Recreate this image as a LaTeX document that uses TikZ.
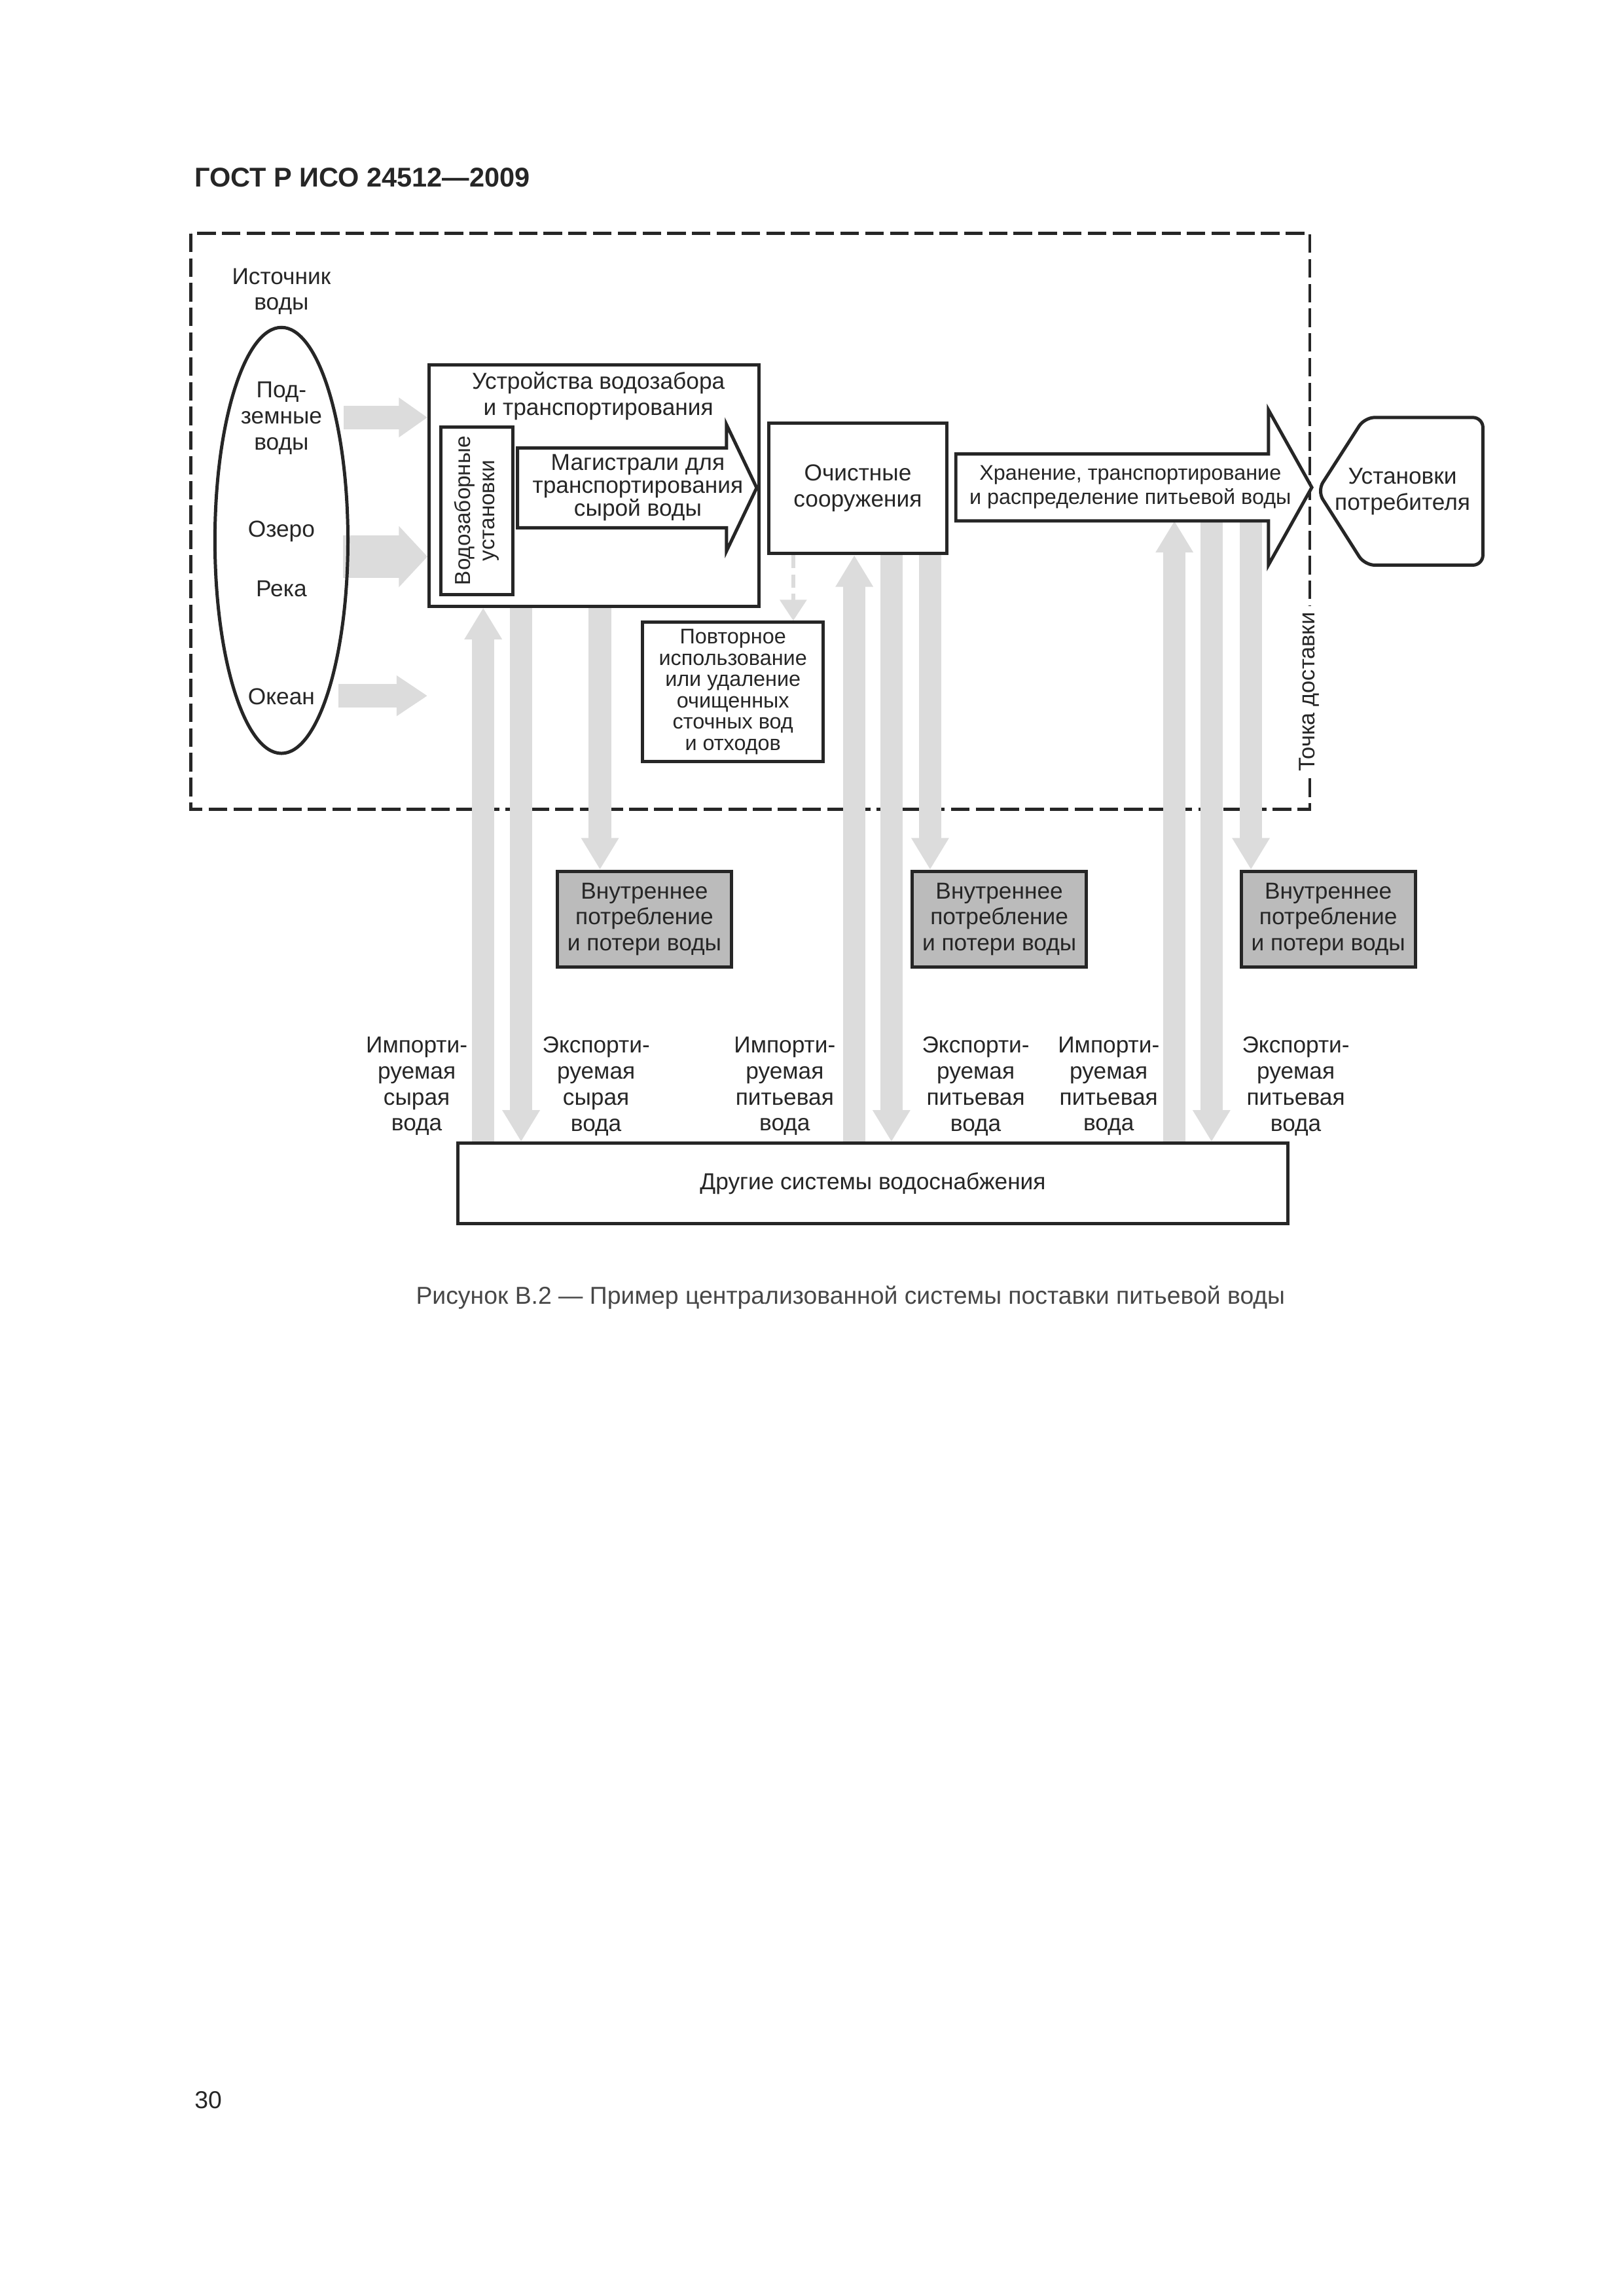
\documentclass[tikz,border=0pt]{standalone}
\usepackage{fontspec}
\setmainfont{Liberation Sans}
\usetikzlibrary{shapes.geometric,arrows.meta}
\pgfdeclarelayer{frame}
\pgfdeclarelayer{flow}
\pgfsetlayers{frame,flow,main}
\definecolor{ink}{HTML}{262626}
\definecolor{pipe}{HTML}{DCDCDC}
\definecolor{loss}{HTML}{BBBBBB}

\begin{document}
\begin{tikzpicture}[x=1mm, y=-1mm,
    every node/.style={text=ink, inner sep=0pt, align=center, font=\fontsize{8.5}{9.6}\selectfont},
    box/.style={draw=ink, line width=1.2pt, fill=white},
    losses/.style={box, fill=loss, minimum width=22.5mm, minimum height=12.4mm},
    outline/.style={draw=ink, line width=1.2pt, line join=miter, fill=white},
    pipeline/.style={draw=pipe, line width=2.9mm, -{Triangle[length=4.1mm, width=4.6mm]}}]
\useasboundingbox (0,0) rectangle (210,297);
\node[anchor=base west, font=\fontsize{10}{12}\selectfont\bfseries] (header) at (25.1,24.2) {ГОСТ Р ИСО 24512—2009};
% boundary of the supply system
\begin{pgfonlayer}{frame}
\draw [ink, line width=1.1pt, dash pattern=on 2.4mm off 0.8mm] (24.7,30.2) rectangle (169.4,104.7);
\end{pgfonlayer}
\node[rotate=90, fill=white, inner xsep=0.8mm, inner ysep=0.4mm, font=\fontsize{8.3}{9.6}\selectfont] (delivery) at (169.3,89.5) {Точка доставки};
% water source
\node (srclabel) at (36.4,37.7) {Источник\\воды};
\node[draw=ink, line width=1.2pt, ellipse, minimum width=17.2mm, minimum height=55.1mm] (source) at (36.4,69.9) {};
\node (ground) at (36.4,54.1) {Под-\\земные\\воды};
\node[anchor=base] (lake) at (36.4,69.5) {Озеро};
\node[anchor=base] (river) at (36.4,77.2) {Река};
\node[anchor=base] (ocean) at (36.4,91.1) {Океан};
\coordinate (feed1) at (44.45,54.0);
\coordinate (feed2) at (44.4,72.0);
\coordinate (feed3) at (43.8,90.0);
% intake and raw water mains
\node[box, minimum width=42.7mm, minimum height=31.2mm] (intake) at (76.85,62.8) {};
\node (intakelabel) at (77.4,51.2) {Устройства водозабора\\и транспортирования};
\node[box, rotate=90, minimum width=21.7mm, minimum height=9.3mm, font=\fontsize{8}{8.8}\selectfont] (wells) at (61.65,66.05) {Водозаборные\\установки};
\node[minimum width=26.9mm, minimum height=10.2mm] (mains) at (80.45,63.1) {};
\draw [outline] (mains.north west) -- (mains.north east) -- ([yshift=3mm]mains.north east)
  -- ([xshift=3.9mm]mains.east) -- ([yshift=-3mm]mains.south east) -- (mains.south east)
  -- (mains.south west) -- cycle;
\node[font=\fontsize{8.5}{8.4}\selectfont] (mainslabel) at (82.5,63.1) {Магистрали для\\транспортирования\\сырой воды};
% treatment
\node[box, minimum width=23.1mm, minimum height=16.9mm] (treat) at (110.95,63.15) {Очистные\\сооружения};
\node[box, minimum width=23.4mm, minimum height=18mm, font=\fontsize{7.8}{7.85}\selectfont] (reuse) at (94.8,89.5) {Повторное\\использование\\или удаление\\очищенных\\сточных вод\\и отходов};
% storage and distribution
\node[minimum width=40.3mm, minimum height=8.5mm] (store) at (143.85,63.05) {};
\draw [outline] (store.north west) -- (store.north east) -- ([yshift=5.7mm]store.north east)
  -- ([xshift=5.6mm]store.east) -- ([yshift=-5.7mm]store.south east) -- (store.south east)
  -- (store.south west) -- cycle;
\node[font=\fontsize{7.8}{9.1}\selectfont] (storelabel) at (146.2,63.0) {Хранение, транспортирование\\и распределение питьевой воды};
% consumer
\draw [ink, line width=1.2pt, rounded corners=1.3mm, fill=white] (170.4,63.5) -- (176.5,54.0) -- (191.8,54.0) -- (191.8,73.1) -- (176.5,73.1) -- cycle;
\node (consumer) at (181.4,63.6) {Установки\\потребителя};
% losses and other systems
\foreach \name/\x in {lossa/83.35, lossb/129.25, lossc/171.8} {
    \node[losses] (\name) at (\x,118.9) {Внутреннее\\потребление\\и потери воды};
}
\node[box, minimum width=107.4mm, minimum height=10.4mm] (others) at (112.9,153.1) {Другие системы водоснабжения};
\foreach \x/\dir/\kind [count=\i] in {53.9/Импорти/сырая, 77.1/Экспорти/сырая, 101.5/Импорти/питьевая, 126.2/Экспорти/питьевая, 143.4/Импорти/питьевая, 167.6/Экспорти/питьевая} {
    \node (trade\i) at (\x,140.5) {\dir-\\руемая\\\kind\\вода};
}
% flows
\begin{pgfonlayer}{flow}
\draw [draw=pipe, line width=3.1mm, -{Triangle[length=3.7mm, width=4.9mm]}] (feed1) -- (intake.west |- feed1);
\draw [draw=pipe, line width=5.5mm, -{Triangle[length=3.7mm, width=7.7mm]}] (feed2) -- (intake.west |- feed2);
\draw [draw=pipe, line width=3.1mm, -{Triangle[length=4.0mm, width=5.0mm]}] (feed3) -- (intake.west |- feed3);
\draw [draw=pipe, line width=0.5mm, dash pattern=on 1.7mm off 0.8mm, -{Triangle[length=2.7mm, width=3.4mm]}] (102.6,0 |- treat.south) -- (102.6,0 |- reuse.north);
\foreach \up/\out/\loss/\from/\to in {62.5/67.4/77.6/intake/lossa, 110.5/115.3/120.3/treat/lossb, 151.9/156.7/161.8/store/lossc} {
    \draw [pipeline] (\up,0 |- others.north) -- (\up,0 |- \from.south);
    \draw [pipeline] (\out,0 |- \from.south) -- (\out,0 |- others.north);
    \draw [pipeline] (\loss,0 |- \from.south) -- (\loss,0 |- \to.north);
}
\end{pgfonlayer}
\node[anchor=base, font=\fontsize{9}{11}\selectfont, text=ink!85] (caption) at (110.0,168.7) {Рисунок В.2 — Пример централизованной системы поставки питьевой воды};
\node[anchor=base west, font=\fontsize{9}{11}\selectfont] (page) at (25.1,272.7) {30};
\end{tikzpicture}
\end{document}
